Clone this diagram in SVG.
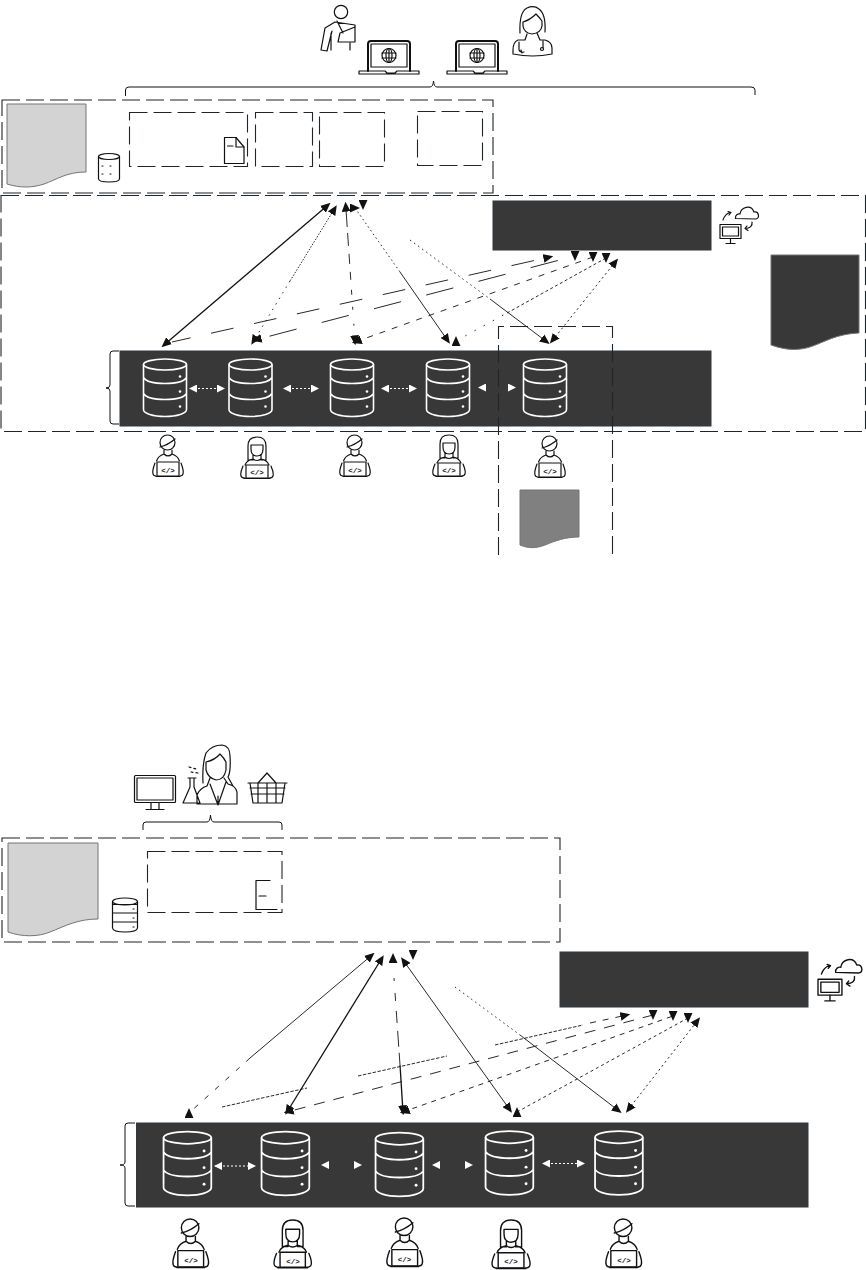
<svg xmlns="http://www.w3.org/2000/svg" width="866" height="1270" viewBox="0 0 866 1270">
<style>
text{font-family:"Liberation Sans",Arial,sans-serif}
.bg{fill:#fff}
.bx{fill:none;stroke:#1e252b;stroke-width:1.1;stroke-dasharray:18 6}
.bar{fill:#383838;stroke:#2f3840;stroke-width:1}
.doc{stroke:#757575;stroke-width:1}
.ic{fill:none;stroke:#111;stroke-width:1.2;stroke-linecap:round;stroke-linejoin:round}
.db{fill:none;stroke:#fff;stroke-width:1.6}
.brace{fill:none;stroke:#111;stroke-width:1}
.c{fill:none;stroke:#111;stroke-width:.9}
.c2{fill:none;stroke:#111;stroke-width:1.3}
.wc{fill:none;stroke:#fff;stroke-width:1;stroke-dasharray:2 2}
.wn{fill:none;stroke:none}
.code{font-family:"Liberation Mono",monospace;font-size:7.5px;font-weight:700;text-anchor:middle;fill:#111}
</style>
<defs>
<marker id="ah" markerUnits="userSpaceOnUse" markerWidth="10" markerHeight="9" viewBox="0 0 9 8" refX="6" refY="4" orient="auto-start-reverse"><path d="M0,0L9,4L0,8Z" fill="#111"/></marker>
<marker id="ahU" markerUnits="userSpaceOnUse" markerWidth="10" markerHeight="9" viewBox="0 0 9 8" refX="4.5" refY="4" orient="-90"><path d="M0,0L9,4L0,8Z" fill="#111"/></marker>
<marker id="ahD" markerUnits="userSpaceOnUse" markerWidth="10" markerHeight="9" viewBox="0 0 9 8" refX="4.5" refY="4" orient="90"><path d="M0,0L9,4L0,8Z" fill="#111"/></marker>
<marker id="ahR" markerUnits="userSpaceOnUse" markerWidth="10" markerHeight="9" viewBox="0 0 9 8" refX="4.5" refY="4" orient="0"><path d="M0,0L9,4L0,8Z" fill="#111"/></marker>
<marker id="wh" markerUnits="userSpaceOnUse" markerWidth="8" markerHeight="8" viewBox="0 0 8 8" refX="7" refY="4" orient="auto-start-reverse"><path d="M0,0L8,4L0,8Z" fill="#fff"/></marker>
<g id="dbs">
<ellipse cx="22" cy="6" rx="21.5" ry="5.5"/>
<path d="M.5,6V51C.5,55 10,58 22,58S43.5,55 43.5,51V6M.5,19C3,23 12,25 22,25S41,23 43.5,19M.5,35C3,39 12,41 22,41S41,39 43.5,35"/>
<g fill="#fff" stroke="none"><circle cx="37" cy="18" r="1.3"/><circle cx="37" cy="33" r="1.3"/><circle cx="37" cy="48" r="1.3"/></g>
</g>
<g id="devm">
<ellipse cx="15.5" cy="7.5" rx="7.5" ry="7.5"/>
<path d="M8,12Q16,10 23,4M12,15V19Q16,23 20,19V15M12,19Q6,21 4.5,26M20,19Q26,21 27.5,26M3,28Q0,36 1,39Q1.5,41 4,41M29,28Q32,36 31,39Q30.5,41 28,41M4,41.5H28"/>
<rect x="5" y="27" width="22" height="14"/>
</g>
<g id="devf">
<path d="M9,23V9Q9,0 18,0Q27,0 27,9V23M12,8H24M12,8V12Q12,19 18,19Q24,19 24,12V8M14,18V22Q18,25 22,22V18M9,23H14M22,23H27M14,22Q8,23 6,28M22,22Q28,23 30,28M4,29Q1,36 2,39Q2.5,41 6,41M32,29Q35,36 34,39Q33.5,41 30,41M5,41.5H31"/>
<rect x="7" y="28" width="22" height="13"/>
</g>
<g id="laptop">
<path d="M0,30V3Q0,0 3,0H39Q42,0 42,3V30" stroke-width="2"/>
<rect x="3" y="3" width="36" height="23"/>
<circle cx="21" cy="14.500" r="7"/>
<ellipse cx="21" cy="14.500" rx="3" ry="7"/>
<path d="M21,7.500V21.500M14,12H28M14,17H28"/>
<path d="M-9,30H17L19,32H27L29,30H51V33H-9Z" stroke-width="1.200"/>
</g>
<g id="cloud">
<rect x="0" y="19.500" width="21" height="14" stroke-width="1.200"/>
<rect x="2.500" y="22" width="16" height="9"/>
<path d="M10.500,33.500V38M6,38.500H15"/>
<path d="M15.500,13.500C15,10 18,8.500 20,9C21,2 31,-1 34,7C39,6 40,13 36,14Z"/>
<path d="M3,15Q5,9 10,7.500M8,6.500L11,7.500L9,10M32,17Q33,23 25,23.500M27,21L25,23.500L28,25.500"/>
</g>
</defs>

<rect class="bg" width="866" height="1270"/>

<g id="patient"><path class="ic" d="M335,22L325,28L321,50L327,51L332,31M331,33V50M335,22L355,25V42H338L340,33L355,27M337,21L343,33M350,43V50"/><circle class="ic" cx="341" cy="12" r="6.700"/></g>
<g id="laptop-1"><use href="#laptop" class="ic" transform="translate(368,41)"/></g>
<g id="laptop-2"><use href="#laptop" class="ic" transform="translate(456,41)"/></g>
<g id="doctor"><path class="ic" d="M520,33Q519,12 527,8Q534,5 539,9Q546,14 545,32M523,22Q530,20 536,14Q540,18 542,21V26Q541,33 532,34Q524,33 523,26ZM527,34L525,40H518Q513,42 513,50V54Q533,58 552,54V48Q552,42 545,40H540L537,33M519,42V50Q520,53 524,52M521,50L522,53M543,41V48"/><circle class="ic" cx="542" cy="49" r="1.500"/></g>

<g id="top-brace"><path class="brace" d="M125.500,96V90Q125.500,87 129,87H430Q433,87 433.500,81Q434,87 437,87H751Q755,87 755,90V95"/></g>

<g id="upper-a">
<rect id="box-top" class="bx" x="2" y="100" width="491" height="93"/>
<path id="doc-gray-1" class="doc" fill="#d3d3d3" d="M7,104H86V172C66,172 56,180 44,184C32,188 20,188 7,184Z"/>
<g id="store-1"><ellipse class="ic" cx="109" cy="156.500" rx="10.500" ry="3"/><path class="ic" d="M98.500,156.500V179Q99,182 109,182Q119,182 119.500,179V156.500"/><path class="ic" stroke-dasharray="1 7" d="M102,166H118M102,174H118"/></g>
<rect id="box-a" class="bx" x="129.500" y="112.500" width="118" height="54"/>
<rect id="box-b" class="bx" x="255.500" y="112.500" width="57" height="54"/>
<rect id="box-c" class="bx" x="319.500" y="112.500" width="65" height="54"/>
<rect id="box-d" class="bx" x="417.500" y="111.500" width="65" height="54"/>
<g id="file-1"><path d="M224.500,137.500H236L244,147V163.500H224.500Z" fill="#fff" class="ic"/><path class="ic" d="M236,137.500V147H244M227.500,146H233"/></g>
</g>

<g id="dark-bars">
<rect id="bar-top" class="bar" x="493" y="201" width="218" height="49"/>
<rect id="bar-db-top" class="bar" x="120" y="351" width="591" height="75"/>
<path id="doc-dark" class="doc" fill="#383838" d="M771,255H859V333C836,334 825,342 810,347C797,351 785,350 771,345Z"/>
</g>
<rect id="box-mid" class="bx" x="1" y="195.500" width="864.500" height="236"/>
<path id="box-local" class="bx" d="M498.500,555V326.500H612.500V555"/>
<path id="doc-grey" class="doc" fill="#808080" d="M520,490H579V537C565,537 555,541 545,545C535,549 527,548 520,545Z"/>
<use id="cloud-1" href="#cloud" class="ic" transform="translate(720,205)"/>
<path id="brace-1" class="brace" d="M119,351H113Q110,351 110,354V385Q110,388 106,388Q110,388 110,391V421Q110,424 113,424H119"/>

<g id="db-t1"><use href="#dbs" class="db" transform="translate(143,358.500)"/></g>
<g id="db-t2"><use href="#dbs" class="db" transform="translate(228.500,358.500)"/></g>
<g id="db-t3"><use href="#dbs" class="db" transform="translate(330,358.500)"/></g>
<g id="db-t4"><use href="#dbs" class="db" transform="translate(426,358.500)"/></g>
<g id="db-t5"><use href="#dbs" class="db" transform="translate(523,358.500)"/></g>

<g id="dev-t1"><use href="#devm" class="ic" transform="translate(152,435)"/><text class="code" x="168" y="473">&lt;/&gt;</text></g>
<g id="dev-t2"><use href="#devf" class="ic" transform="translate(239,437)"/><text class="code" x="257" y="475">&lt;/&gt;</text></g>
<g id="dev-t3"><use href="#devm" class="ic" transform="translate(339,435)"/><text class="code" x="355" y="473">&lt;/&gt;</text></g>
<g id="dev-t4"><use href="#devf" class="ic" transform="translate(431,435)"/><text class="code" x="449" y="473">&lt;/&gt;</text></g>
<g id="dev-t5"><use href="#devm" class="ic" transform="translate(534,436)"/><text class="code" x="550" y="474">&lt;/&gt;</text></g>

<g id="monitor"><rect class="ic" x="134.500" y="775.500" width="41" height="27" rx="1"/><rect class="ic" x="137" y="778" width="36" height="22"/><path class="ic" d="M151,803V809M159,803V809M146,809.500H164"/></g>
<g id="scientist"><path class="ic" d="M203,783Q202,764 206,753Q212,745 222,745Q230,746 230,756Q231,772 228,777L233,786M206,762Q215,760 220,754Q224,758 226,762V770Q224,780 216,780Q208,778 206,770ZM210,778L207,786Q200,788 197,795V804H237V792Q236,786 228,784L224,778M210,784L218,805L226,782M218,805V796M188,778H196M190,778V787L183,803H200L194,787V778"/><path class="ic" stroke-dasharray="2 3" d="M189,767L196,769M191,772L198,773"/></g>
<g id="basket"><path class="ic" d="M248,783H287M250,788H285M251,794H284M253,803H282L285,783M253,803L250,783M258,783V803M267,783V803M276,783V803M258,783L267,773L276,783"/></g>
<path id="brace-bottom-top" class="brace" d="M143,830V825Q143,822 146,822H207Q210,822 210.500,815Q211,822 214,822H279Q282,822 282,825V830"/>

<g id="lower-a">
<rect id="box-lower" class="bx" x="2" y="838" width="558" height="104"/>
<path id="doc-gray-2" class="doc" fill="#d3d3d3" d="M8,843H98V919C78,919 65,926 50,932C38,937 22,937 8,932Z"/>
<g id="store-2"><ellipse class="ic" cx="125" cy="901.500" rx="12.500" ry="3.500"/><path class="ic" d="M112.500,901.500V928Q113,932 125,932Q137,932 137.500,928V901.500M113,904.500H137M113,913H137M113,922H137"/><path class="ic" d="M133,909H134M133,918H134M133,927H134"/></g>
<rect id="box-e" class="bx" x="147.500" y="851.500" width="134.500" height="61"/>
<path id="file-2" class="ic" d="M270,880.500H256V909.500H277M259,896H266"/>
</g>

<g id="dark-bars-2">
<rect id="bar-top-2" class="bar" x="560" y="952" width="248" height="55"/>
<rect id="bar-db-2" class="bar" x="136.500" y="1123" width="671.500" height="84"/>
</g>
<use id="cloud-2" href="#cloud" class="ic" transform="translate(818,957) scale(1.140)"/>
<path id="brace-2" class="brace" d="M135,1123H128Q125,1123 125,1126V1162Q125,1165 120,1165Q125,1165 125,1168V1203Q125,1206 128,1206H135"/>

<g id="db-b1"><use href="#dbs" class="db" transform="translate(163,1131) scale(1.110)"/></g>
<g id="db-b2"><use href="#dbs" class="db" transform="translate(261,1131) scale(1.110)"/></g>
<g id="db-b3"><use href="#dbs" class="db" transform="translate(375,1132) scale(1.110)"/></g>
<g id="db-b4"><use href="#dbs" class="db" transform="translate(485,1130.500) scale(1.110)"/></g>
<g id="db-b5"><use href="#dbs" class="db" transform="translate(594.500,1130.500) scale(1.110)"/></g>

<g id="dev-b1"><use href="#devm" class="ic" transform="translate(172,1219) scale(1.170)"/><text class="code" x="191" y="1263">&lt;/&gt;</text></g>
<g id="dev-b2"><use href="#devf" class="ic" transform="translate(272,1220) scale(1.150)"/><text class="code" x="293" y="1264">&lt;/&gt;</text></g>
<g id="dev-b3"><use href="#devm" class="ic" transform="translate(386,1218) scale(1.170)"/><text class="code" x="404.500" y="1262">&lt;/&gt;</text></g>
<g id="dev-b4"><use href="#devf" class="ic" transform="translate(490,1220) scale(1.170)"/><text class="code" x="511" y="1264">&lt;/&gt;</text></g>
<g id="dev-b5"><use href="#devm" class="ic" transform="translate(605,1219) scale(1.170)"/><text class="code" x="624" y="1263">&lt;/&gt;</text></g>

<g id="connectors">
<g id="upper-connectors">
<path class="c2" marker-start="url(#ah)" marker-end="url(#ah)" d="M328,205L164,345"/>
<path class="c" marker-start="url(#ah)" stroke-dasharray="1.500 1.500" d="M335,208L290,281"/>
<path class="c" marker-end="url(#ah)" stroke-dasharray="1.500 5" d="M290,281L253,342"/>
<path class="c" marker-start="url(#ah)" marker-end="url(#ah)" stroke-dasharray="22 6 13 8 10 8 8 10 5 12 3 14 2 14" d="M345.700,205L355,342"/>
<path class="c" marker-start="url(#ahR)" stroke-dasharray="1.500 3" d="M355,208L400,272"/>
<path class="c" marker-end="url(#ah)" d="M400,272L448,341"/>
<path class="c" marker-start="url(#ahD)" stroke-dasharray="1 9" d="M363,205L368,209"/>
<path class="c" stroke-dasharray="1.500 3.500" d="M410,240L490,299"/>
<path class="c" marker-end="url(#ah)" d="M490,299L547,342"/>
<path class="c" marker-end="url(#ah)" stroke-dasharray="23 21" stroke-dashoffset="4" d="M172,342L550,257"/>
<path class="c" marker-start="url(#ah)" marker-end="url(#ahD)" stroke-dasharray="28 26" stroke-dashoffset="-15" d="M255,340L575,256"/>
<path class="c" marker-start="url(#ah)" marker-end="url(#ahD)" stroke-dasharray="6 7" d="M355,342L593,257"/>
<path class="c" marker-start="url(#ahU)" stroke-dasharray="1.500 9" d="M456,341L507,313"/>
<path class="c" marker-end="url(#ahD)" stroke-dasharray="3 2.500" d="M507,313L606,258"/>
<path class="c" marker-start="url(#ah)" marker-end="url(#ah)" stroke-dasharray="2 3" d="M552,341L616,261"/>
</g>
<g id="upper-db-links">
<path class="wc" marker-start="url(#wh)" marker-end="url(#wh)" d="M190,388.500H224"/>
<path class="wc" marker-start="url(#wh)" marker-end="url(#wh)" d="M284,388.500H318"/>
<path class="wc" marker-start="url(#wh)" marker-end="url(#wh)" d="M382,388.500H416"/>
<path class="wn" marker-start="url(#wh)" marker-end="url(#wh)" d="M479,387.500H515"/>
</g>
<g id="lower-connectors">
<path class="c" marker-start="url(#ah)" d="M372,955L250,1058"/>
<path class="c" marker-end="url(#ahU)" stroke-dasharray="5 9" d="M250,1058L189,1113"/>
<path class="c2" marker-start="url(#ah)" marker-end="url(#ah)" d="M382,958L287,1112"/>
<path class="c" marker-start="url(#ahU)" stroke-dasharray="1 9" d="M393,958L393.300,964"/>
<path class="c" stroke-dasharray="3 12 8 10 12 8 16 6 24 4" d="M394,978L400,1065"/>
<path class="c2" marker-end="url(#ah)" d="M400,1065L403,1112"/>
<path class="c" marker-start="url(#ah)" marker-end="url(#ah)" d="M403,960L510,1110"/>
<path class="c" marker-start="url(#ahD)" stroke-dasharray="1 9" d="M413,955L417,958"/>
<path class="c" stroke-dasharray="1.500 3.500" d="M455,987L520,1035"/>
<path class="c" marker-end="url(#ah)" d="M520,1035L619,1111"/>
<path class="c" stroke-dasharray="3.500 1.500" d="M222,1107L307,1088"/>
<path class="c" stroke-dasharray="3.500 1.500" d="M358,1076L447,1056"/>
<path class="c" stroke-dasharray="3.500 1.500" d="M495,1045L583,1025"/>
<path class="c" marker-end="url(#ah)" stroke-dasharray="6 7" d="M590,1023L627,1015"/>
<path class="c" marker-start="url(#ah)" marker-end="url(#ahD)" stroke-dasharray="11 9" stroke-dashoffset="-8" d="M287,1112L653,1015"/>
<path class="c" marker-start="url(#ah)" marker-end="url(#ahD)" stroke-dasharray="5 5" d="M403,1112L673,1016"/>
<path class="c" marker-start="url(#ahU)" marker-end="url(#ahD)" stroke-dasharray="3 3" d="M517,1112L688,1018"/>
<path class="c" marker-start="url(#ah)" marker-end="url(#ah)" stroke-dasharray="2 3" d="M628,1110L698,1020"/>
</g>
<g id="lower-db-links">
<path class="wc" marker-start="url(#wh)" marker-end="url(#wh)" d="M215,1166H255"/>
<path class="wn" marker-start="url(#wh)" marker-end="url(#wh)" d="M322,1165H361"/>
<path class="wn" marker-start="url(#wh)" marker-end="url(#wh)" d="M433,1165H472"/>
<path class="wc" marker-start="url(#wh)" marker-end="url(#wh)" d="M543,1163.500H584"/>
</g>
</g>
</svg>
